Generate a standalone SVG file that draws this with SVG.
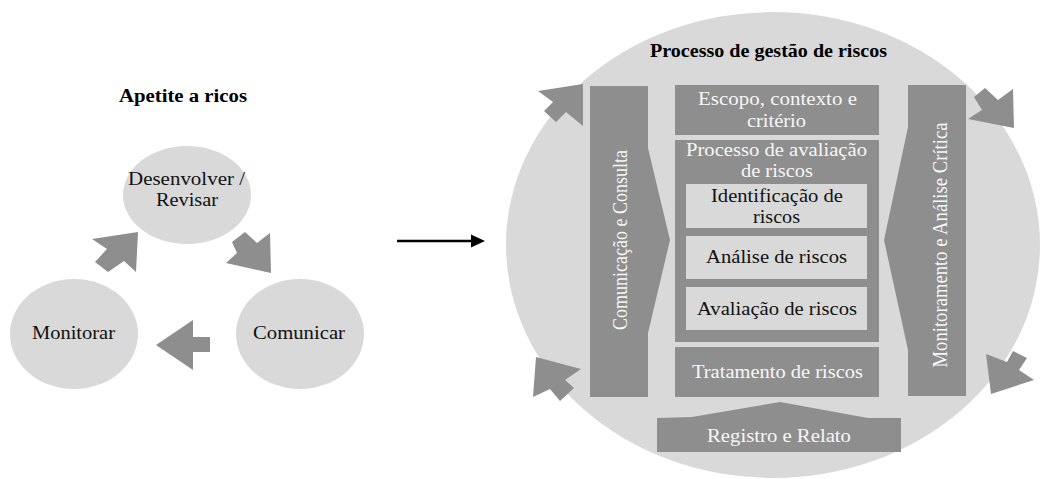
<svg xmlns="http://www.w3.org/2000/svg" width="1042" height="479" viewBox="0 0 1042 479">
<style>
.lt{fill:#d9d9d9}
.dk{fill:#8e8e8e}
text{font-family:'Liberation Serif','Times New Roman',serif;font-size:18px;text-anchor:middle}
.v{font-size:20px}
.b{font-weight:bold;fill:#000}
.w{fill:#f7f7f7}
.k{fill:#111}
</style>
<rect width="1042" height="479" fill="#fff"/>

<g id="apetite">
<text class="b" x="183" y="102" textLength="128" lengthAdjust="spacingAndGlyphs">Apetite a ricos</text>
</g>
<g id="desenvolver">
<ellipse class="lt" cx="187" cy="195" rx="64" ry="49"/>
<text class="k" x="186.5" y="185" textLength="117" lengthAdjust="spacingAndGlyphs">Desenvolver /</text>
<text class="k" x="187" y="206" textLength="62" lengthAdjust="spacingAndGlyphs">Revisar</text>
</g>
<g id="monitorar">
<ellipse class="lt" cx="74" cy="334" rx="64" ry="55"/>
<text class="k" x="73.5" y="339" textLength="83" lengthAdjust="spacingAndGlyphs">Monitorar</text>
</g>
<g id="comunicar">
<ellipse class="lt" cx="300" cy="334" rx="64" ry="55"/>
<text class="k" x="299" y="339" textLength="92" lengthAdjust="spacingAndGlyphs">Comunicar</text>
</g>

<g id="processo">
<ellipse class="lt" cx="773" cy="245" rx="267" ry="233"/>
<text class="b" x="768.5" y="57" textLength="237" lengthAdjust="spacingAndGlyphs">Processo de gestão de riscos</text>
</g>
<g id="comunicacao-consulta">
<polygon class="dk" points="590,86 648,86 648,148 670,240 648,333 648,397 590,397"/>
<text class="w v" transform="translate(627,240) rotate(-90)" x="0" y="0" textLength="180" lengthAdjust="spacingAndGlyphs">Comunicação e Consulta</text>
</g>
<g id="monitoramento">
<polygon class="dk" points="908,85 966,85 966,396 908,396 908,350 884,240 908,127"/>
<text class="w v" transform="translate(947,245) rotate(-90)" x="0" y="0" textLength="245" lengthAdjust="spacingAndGlyphs">Monitoramento e Análise Crítica</text>
</g>
<g id="escopo">
<rect class="dk" x="675" y="85" width="204" height="50"/>
<text class="w" x="777.5" y="105" textLength="159" lengthAdjust="spacingAndGlyphs">Escopo, contexto e</text>
<text class="w" x="776.5" y="127" textLength="59" lengthAdjust="spacingAndGlyphs">critério</text>
</g>
<g id="avaliacao-processo">
<rect class="dk" x="675" y="140" width="204" height="202"/>
<text class="w" x="776.5" y="156" textLength="181" lengthAdjust="spacingAndGlyphs">Processo de avaliação</text>
<text class="w" x="777" y="177" textLength="72" lengthAdjust="spacingAndGlyphs">de riscos</text>
</g>
<g id="identificacao">
<rect class="lt" x="686" y="184" width="181" height="44"/>
<text class="k" x="777" y="202" textLength="132" lengthAdjust="spacingAndGlyphs">Identificação de</text>
<text class="k" x="776.5" y="223" textLength="47" lengthAdjust="spacingAndGlyphs">riscos</text>
</g>
<g id="analise">
<rect class="lt" x="686" y="236" width="181" height="43"/>
<text class="k" x="776.5" y="263" textLength="141" lengthAdjust="spacingAndGlyphs">Análise de riscos</text>
</g>
<g id="avaliacao">
<rect class="lt" x="686" y="287" width="181" height="43"/>
<text class="k" x="777" y="315" textLength="160" lengthAdjust="spacingAndGlyphs">Avaliação de riscos</text>
</g>
<g id="tratamento">
<rect class="dk" x="675" y="347" width="204" height="50"/>
<text class="w" x="777.5" y="378" textLength="171" lengthAdjust="spacingAndGlyphs">Tratamento de riscos</text>
</g>
<g id="registro">
<polygon class="dk" points="657,418 692,417 780,402 868,418 901,418 901,452 657,452"/>
<text class="w" x="779" y="442" textLength="144" lengthAdjust="spacingAndGlyphs">Registro e Relato</text>
</g>

<g id="connectors">
<polygon class="dk" points="92,239 138,232 136,272 124,261 108,272 95,262 107,249"/>
<polygon class="dk" points="245,232 257,243 270,233 271,273 226,263 237,253 232,242"/>
<polygon class="dk" points="156,345 193,320 193,337 210,337 210,352 193,352 193,370"/>
<line x1="397" y1="241" x2="473" y2="241" stroke="#000" stroke-width="2.5"/>
<polygon points="471,234.5 485,241 471,247.5" fill="#000"/>
<polygon class="dk" points="538,91 583,84 583,126 566,112 556,122 544,111 553,102"/>
<polygon class="dk" points="974,97 985,88 998,100 1013,89 1014,128 968,119 982,110"/>
<polygon class="dk" points="986,354 991,394 1034,380 1019,370 1027,358 1013,351 1007,362"/>
<polygon class="dk" points="536,357 581,369 565,380 574,388 560,401 550,389 533,397"/>
</g>
</svg>
